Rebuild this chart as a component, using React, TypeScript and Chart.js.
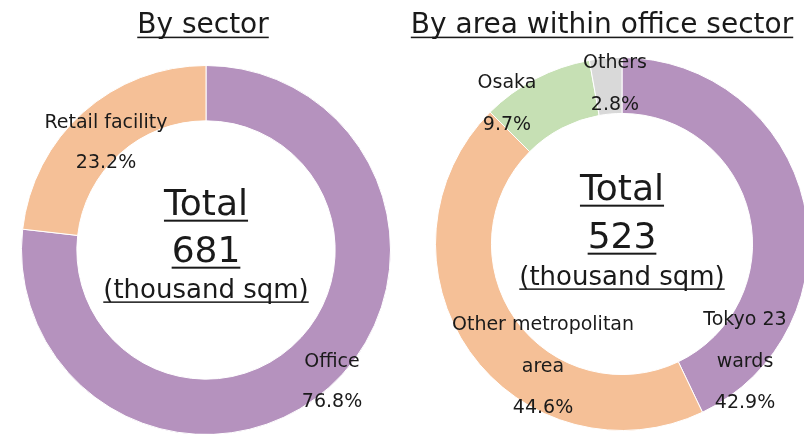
import React, { useEffect, useRef } from "react";
import { Chart, registerables } from "chart.js";

Chart.register(...registerables);

// ---- Data ----
const sectorTitle = "By sector";
const sectorLabels = ["Office", "Retail facility"];
const sectorValues = [76.8, 23.2];
const sectorTotal = "681";

const areaTitle = "By area within office sector";
const areaLabels = ["Tokyo 23 wards", "Other metropolitan area", "Osaka", "Others"];
const areaValues = [42.9, 44.6, 9.7, 2.8];
const areaTotal = "523";

const unitText = "(thousand sqm)";
const totalWord = "Total";

// ---- Styles ----
const PURPLE = "#B592BE";
const ORANGE = "#F5C097";
const GREEN = "#C6E0B4";
const GRAY = "#D9D9D9";
const FONT = "'DejaVu Sans', Verdana, sans-serif";
const TEXT = "#1a1a1a";

type LabelSpec = { lines: string[]; dx: number; dys: number[] };

function underlineText(ctx: CanvasRenderingContext2D, text: string, x: number, y: number, size: number) {
  ctx.font = `${size}px ${FONT}`;
  ctx.textAlign = "center";
  ctx.textBaseline = "alphabetic";
  ctx.fillText(text, x, y);
  const w = ctx.measureText(text).width;
  const th = Math.max(1.5, size / 18);
  ctx.fillRect(x - w / 2, y + size * 0.13, w, th);
}

const textPlugin = {
  id: "donutText",
  afterDatasetsDraw(chart: any, _args: any, opts: any) {
    const ctx: CanvasRenderingContext2D = chart.ctx;
    const meta = chart.getDatasetMeta(0);
    const arc = meta.data[0];
    if (!arc) return;
    const cx = arc.x;
    const cy = arc.y;
    ctx.save();
    ctx.fillStyle = TEXT;
    underlineText(ctx, opts.title, opts.titleX, opts.titleY, 28);
    underlineText(ctx, totalWord, cx + opts.centerDx, cy + opts.centerDys[0], 36);
    underlineText(ctx, opts.total, cx + opts.centerDx, cy + opts.centerDys[1], 36);
    underlineText(ctx, unitText, cx + opts.centerDx, cy + opts.centerDys[2], 26);
    ctx.font = `19px ${FONT}`;
    ctx.textAlign = "center";
    ctx.textBaseline = "alphabetic";
    const values: number[] = chart.data.datasets[0].data;
    (opts.labels as LabelSpec[]).forEach((spec, i) => {
      const lines = [...spec.lines, values[i].toFixed(1) + "%"];
      lines.forEach((ln, j) => {
        ctx.fillText(ln, cx + spec.dx, cy + spec.dys[j]);
      });
    });
    ctx.restore();
  },
};

function makeChart(
  canvas: HTMLCanvasElement,
  labels: string[],
  values: number[],
  colors: string[],
  padding: any,
  pluginOpts: any
) {
  return new Chart(canvas, {
    type: "doughnut",
    data: {
      labels,
      datasets: [
        {
          data: values,
          backgroundColor: colors,
          borderColor: "#ffffff",
          borderWidth: 1,
          hoverOffset: 0,
          offset: 0,
        },
      ],
    },
    options: {
      responsive: false,
      maintainAspectRatio: false,
      animation: false,
      events: [],
      cutout: "70%",
      rotation: 0,
      layout: { padding },
      plugins: {
        legend: { display: false },
        tooltip: { enabled: false },
        title: { display: false },
        donutText: pluginOpts,
      } as any,
    },
    plugins: [textPlugin],
  });
}

export default function App() {
  const leftRef = useRef<HTMLCanvasElement>(null);
  const rightRef = useRef<HTMLCanvasElement>(null);

  useEffect(() => {
    const left = makeChart(
      leftRef.current!,
      sectorLabels,
      sectorValues,
      [PURPLE, ORANGE],
      { left: 21, right: 11, top: 65, bottom: 25 },
      {
        title: sectorTitle,
        titleX: 203,
        titleY: 33,
        total: sectorTotal,
        centerDx: 0,
        centerDys: [-35, 12, 48],
        labels: [
          { lines: ["Office"], dx: 126, dys: [117, 157] },
          { lines: ["Retail facility"], dx: -100, dys: [-122, -82] },
        ],
      }
    );
    const right = makeChart(
      rightRef.current!,
      areaLabels,
      areaValues,
      [PURPLE, ORANGE, GREEN, GRAY],
      { left: 33, right: 13, top: 57, bottom: 29 },
      {
        title: areaTitle,
        titleX: 200,
        titleY: 33,
        total: areaTotal,
        centerDx: 0,
        centerDys: [-44, 4, 41],
        labels: [
          { lines: ["Tokyo 23", "wards"], dx: 123, dys: [81, 123, 164] },
          { lines: ["Other metropolitan", "area"], dx: -79, dys: [86, 128, 169] },
          { lines: ["Osaka"], dx: -115, dys: [-156, -114] },
          { lines: ["Others"], dx: -7, dys: [-176, -134] },
        ],
      }
    );
    return () => {
      left.destroy();
      right.destroy();
    };
  }, []);

  return (
    <div
      style={{
        position: "absolute",
        left: 0,
        top: 0,
        width: 804,
        height: 434,
        overflow: "hidden",
        background: "#ffffff",
      }}
    >
      <canvas
        ref={leftRef}
        width={402}
        height={460}
        style={{ position: "absolute", left: 0, top: 0, width: 402, height: 460 }}
      />
      <canvas
        ref={rightRef}
        width={420}
        height={460}
        style={{ position: "absolute", left: 402, top: 0, width: 420, height: 460 }}
      />
    </div>
  );
}
